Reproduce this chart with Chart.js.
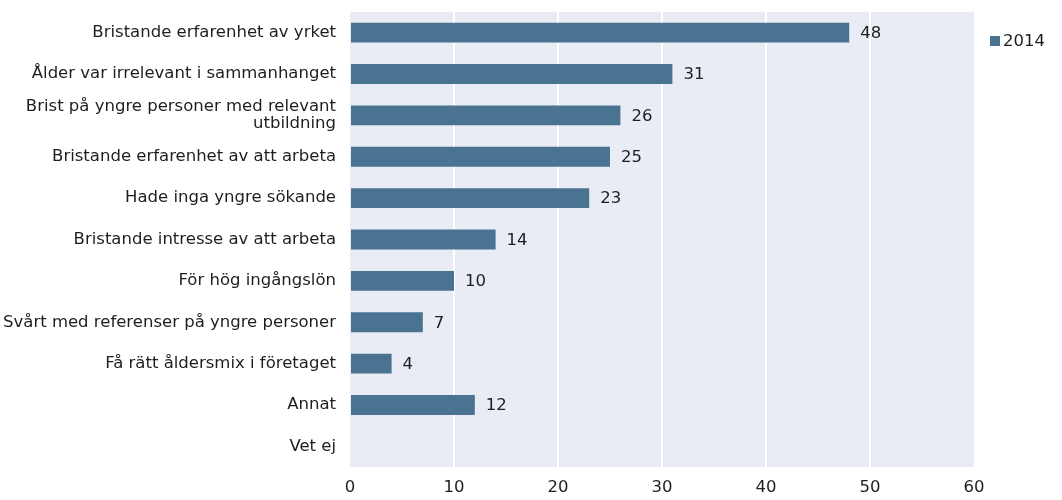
<!DOCTYPE html>
<html>
<head>
<meta charset="utf-8">
<script src="https://cdn.jsdelivr.net/npm/chart.js@4"></script>
<style>
  html, body { margin: 0; padding: 0; background: #fff; }
  #wrap { width: 1062px; height: 500px; }
</style>
</head>
<body>
<div id="wrap"><canvas id="myChart"></canvas></div>
<script>
// categories (y axis)
const categories = [
  'Bristande erfarenhet av yrket',
  'Ålder var irrelevant i sammanhanget',
  ['Brist på yngre personer med relevant', 'utbildning'],
  'Bristande erfarenhet av att arbeta',
  'Hade inga yngre sökande',
  'Bristande intresse av att arbeta',
  'För hög ingångslön',
  'Svårt med referenser på yngre personer',
  'Få rätt åldersmix i företaget',
  'Annat',
  'Vet ej'
];
const values2014 = [48, 31, 26, 25, 23, 14, 10, 7, 4, 12, null];
const xTicks = [0, 10, 20, 30, 40, 50, 60];
const seriesName = '2014';

const barColor = '#4a7391';
const plotBg = '#e9ecf4';
const fontName = '"DejaVu Sans", sans-serif';

// light background behind the plot
const plotBackground = {
  id: 'plotBackground',
  beforeDraw(chart) {
    const a = chart.chartArea;
    const ctx = chart.ctx;
    ctx.save();
    ctx.fillStyle = plotBg;
    ctx.fillRect(a.left, a.top, a.right - a.left, a.bottom - a.top);
    ctx.restore();
  }
};

// value next to each bar + small legend on the right
const valueLabels = {
  id: 'valueLabels',
  afterDatasetsDraw(chart) {
    const ctx = chart.ctx;
    const meta = chart.getDatasetMeta(0);
    ctx.save();
    ctx.fillStyle = '#1e1e1e';
    ctx.font = '16.5px ' + fontName;
    ctx.textAlign = 'left';
    ctx.textBaseline = 'middle';
    meta.data.forEach(function(bar, i) {
      const v = values2014[i];
      if (v === null) return;
      ctx.fillText(String(v), bar.x + 11, bar.y + 1);
    });

    // legend
    const lx = chart.chartArea.right + 16;
    const ly = chart.chartArea.top + 29;
    ctx.fillStyle = barColor;
    ctx.fillRect(lx, ly - 5, 10, 10);
    ctx.fillStyle = '#1e1e1e';
    ctx.fillText(seriesName, lx + 13, ly + 1);
    ctx.restore();
  }
};

const config = {
  type: 'bar',
  data: {
    labels: categories,
    datasets: [{
      label: seriesName,
      data: values2014,
      backgroundColor: barColor,
      borderWidth: 0,
      barPercentage: 0.48,
      categoryPercentage: 1
    }]
  },
  options: {
    indexAxis: 'y',
    responsive: true,
    maintainAspectRatio: false,
    animation: false,
    layout: { padding: { top: 12, right: 88, left: 0, bottom: 0 } },
    plugins: {
      legend: { display: false },
      tooltip: { enabled: false }
    },
    scales: {
      x: {
        min: 0,
        max: 60,
        afterBuildTicks(axis) {
          axis.ticks = xTicks.map(function(v) { return { value: v }; });
        },
        afterFit(axis) {
          axis.height = 33;
          axis.paddingLeft = 0;
          axis.paddingRight = 0;
        },
        grid: {
          color: function(c) {
            return (c.tick && (c.tick.value === 0 || c.tick.value === 60)) ? 'rgba(0,0,0,0)' : '#ffffff';
          },
          lineWidth: 2,
          drawTicks: false
        },
        border: { display: false },
        ticks: {
          color: '#1e1e1e',
          padding: 11,
          maxRotation: 0,
          font: { family: fontName, size: 16.5 }
        }
      },
      y: {
        afterFit(axis) {
          axis.width = 350;
          axis.paddingTop = 0;
          axis.paddingBottom = 0;
        },
        grid: { display: false, drawTicks: false },
        border: { display: false },
        ticks: {
          color: '#1e1e1e',
          padding: 14,
          autoSkip: false,
          font: { family: fontName, size: 16.5, lineHeight: 1.05 }
        }
      }
    }
  },
  plugins: [plotBackground, valueLabels]
};

document.addEventListener('DOMContentLoaded', function() {
  new Chart(document.getElementById('myChart'), config);
});
</script>
</body>
</html>
